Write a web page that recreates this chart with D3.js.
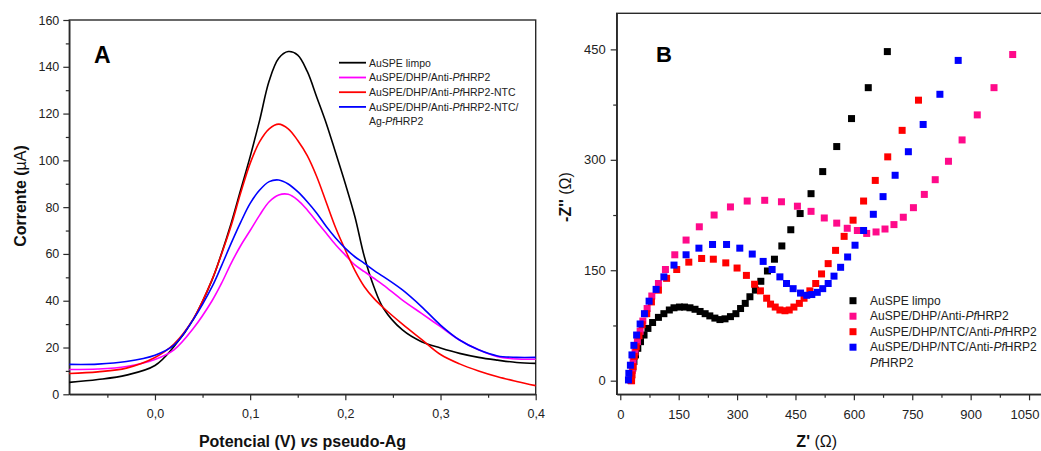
<!DOCTYPE html>
<html><head><meta charset="utf-8">
<script src="https://cdn.jsdelivr.net/npm/d3@7"></script>
<style>
html,body{margin:0;padding:0;background:#fff;}
svg{display:block;font-family:"Liberation Sans",Arial,sans-serif;}
</style></head>
<body>
<svg id="chart" width="1041" height="451"></svg>
<script>
// ---------- Panel A data (DPV) ----------
const potentialA = [-0.09,-0.06,-0.03,0.00,0.02,0.04,0.06,0.07,0.08,0.09,0.10,0.11,0.12,0.13,0.14,0.15,0.16,0.17,0.18,0.19,0.20,0.21,0.22,0.23,0.24,0.26,0.28,0.30,0.32,0.34,0.36,0.38,0.40];
const aLimpo   = [5.1,6.3,8.2,12.3,20.4,31.8,48.9,60.3,73,87.3,101.6,117.2,134,143.6,146.5,145,138,127,115.8,103,90,76,58.8,46,36.8,27.5,22.5,19.8,17.5,15.8,14.6,13.6,13.2];
const aAnti    = [10.6,10.8,11.9,14.9,19,28,40,47.5,56,63.5,70,76.6,82.3,85.2,85.5,83,78.8,73.8,68.8,63.8,59.5,55.3,52.4,49.6,46.7,40.3,34.6,28.9,23.2,19,16.1,15.1,15];
const aNTC     = [8.9,9.6,11.2,15.7,21.5,32,49,60,72,86,98.7,108,113.5,115.5,113.5,108.5,102,93,82,71,61.7,53,46,41,37,30,23.5,17,13,10,7.5,5.5,3.7];
const aNTCAg   = [12.8,12.9,14,16.7,21,31.8,46,55,64.5,73.5,81.6,87.3,90.9,91.6,89.9,86.6,82.3,77.4,71.7,66.7,62.4,58.8,56,53,50.3,44.6,37.5,29.6,23.2,19,16.4,15.8,15.8];
const seriesNamesA = ["AuSPE limpo","AuSPE/DHP/Anti-PfHRP2","AuSPE/DHP/Anti-PfHRP2-NTC","AuSPE/DHP/Anti-PfHRP2-NTC/Ag-PfHRP2"];
const xTicksA = [0,0.1,0.2,0.3,0.4];
const xTickLabelsA = ["0,0","0,1","0,2","0,3","0,4"];
const yTicksA = [0,20,40,60,80,100,120,140,160];

// ---------- Panel B data (EIS Nyquist) ----------
const bLimpoZre = [27,29,32,35,39,45,52,61,71,83,98,112,126,138,152,165,179,192,205,218,230,243,256,269,283,297,309,321,333,347,361,378,396,415,438,462,490,520,556,594,637,686];
const bLimpoZim = [1,8,17,26,35,44,53,62,71,79,86,91,96,99,100,100,99,97,94,91,88,85,83,84,87,91,98,105,114,123,135,149,165,183,205,227,254,284,318,356,398,447];
const bAntiZre = [28,29,31,33,38,44,51,58,69,81,98,116,140,169,203,241,283,326,371,414,455,490,524,556,583,609,633,657,680,703,727,753,781,809,843,878,917,960,1008];
const bAntiZim = [0,5,14,26,39,53,67,81,98,115,132,151,171,191,209,225,236,244,245,243,237,230,221,214,207,204,200,202,206,212,222,235,253,273,298,327,361,398,443];
const bNTCZre = [29,30,33,36,41,48,56,68,80,98,119,145,176,209,239,271,300,324,345,360,376,386,398,410,423,434,446,460,472,487,502,517,534,553,575,598,625,655,687,724,766];
const bNTCZim = [0,8,19,33,46,61,76,91,107,123,139,151,161,166,165,160,153,143,131,122,112,104,100,96,95,96,100,105,112,122,132,145,159,177,196,218,244,272,304,340,381];
const bAgZre = [21,22,26,30,35,42,51,62,74,92,112,138,169,202,237,273,307,339,367,390,410,427,444,463,479,492,506,520,534,549,566,584,603,625,650,675,706,740,778,821,868];
const bAgZim = [1,10,21,35,48,62,77,91,108,124,141,157,171,180,185,185,180,172,162,151,141,132,125,119,116,117,120,125,132,142,154,168,184,204,226,250,279,311,348,389,435];
const seriesNamesB = ["AuSPE limpo","AuSPE/DHP/Anti-PfHRP2","AuSPE/DHP/NTC/Anti-PfHRP2","AuSPE/DHP/NTC/Anti-PfHRP2"];
const xTicksB = [0,150,300,450,600,750,900,1050];
const yTicksB = [0,150,300,450];

const colorsA = ["#000000","#ff00ff","#ff0000","#0000ff"];
const colorsB = ["#000000","#ff0a8a","#ff0000","#0000ff"];

const svg = d3.select("#chart");
const frameColor = "#2a2a2a";

// ================= Panel A =================
const xA = d3.scaleLinear().domain([-0.09,0.4]).range([69.3,535.7]);
const yA = d3.scaleLinear().domain([0,160]).range([394.3,20]);
const gA = svg.append("g");

gA.append("rect").attr("x",xA(-0.09)).attr("y",yA(160)).attr("width",xA(0.4)-xA(-0.09)).attr("height",yA(0)-yA(160))
  .attr("fill","none").attr("stroke",frameColor).attr("stroke-width",1.4);

function styleAxis(g, fs){
  g.selectAll(".domain").attr("stroke",frameColor).attr("stroke-width",1.4);
  g.selectAll(".tick line").attr("stroke",frameColor).attr("stroke-width",1.2);
  g.selectAll("text").attr("fill","#222").style("font-size",fs+"px").style("font-family","'Liberation Sans',Arial,sans-serif");
}

const axAx = gA.append("g").attr("transform",`translate(0,${yA(0)})`)
  .call(d3.axisBottom(xA).tickValues(xTicksA).tickFormat((d,i)=>xTickLabelsA[i]).tickSize(6).tickSizeOuter(0).tickPadding(9));
styleAxis(axAx,12.5);
const axAxMinor = gA.append("g").attr("transform",`translate(0,${yA(0)})`)
  .call(d3.axisBottom(xA).tickValues([-0.05,0.05,0.15,0.25,0.35]).tickFormat("").tickSize(3.5).tickSizeOuter(0));
styleAxis(axAxMinor,12);
axAxMinor.select(".domain").remove();

const ayAx = gA.append("g").attr("transform",`translate(${xA(-0.09)},0)`)
  .call(d3.axisLeft(yA).tickValues(yTicksA).tickSize(6).tickSizeOuter(0).tickPadding(4));
styleAxis(ayAx,12.5);
const ayAxMinor = gA.append("g").attr("transform",`translate(${xA(-0.09)},0)`)
  .call(d3.axisLeft(yA).tickValues([10,30,50,70,90,110,130,150]).tickFormat("").tickSize(3.5).tickSizeOuter(0));
styleAxis(ayAxMinor,12);
ayAxMinor.select(".domain").remove();

const lineA = d3.line().x(d=>xA(d[0])).y(d=>yA(d[1])).curve(d3.curveCatmullRom.alpha(0.5));
const dataA = [aLimpo,aAnti,aNTC,aNTCAg];
dataA.forEach((arr,i)=>{
  gA.append("path").datum(potentialA.map((x,j)=>[x,arr[j]]))
    .attr("d",lineA).attr("fill","none").attr("stroke",colorsA[i]).attr("stroke-width",1.6);
});

gA.append("text").attr("x",94).attr("y",63).text("A")
  .style("font-size","23px").style("font-weight","bold").attr("fill","#000");

function pfText(sel, str){
  const parts = str.split("Pf");
  parts.forEach((p,k)=>{
    if(k>0) sel.append("tspan").style("font-style","italic").text("Pf");
    if(p.length) sel.append("tspan").text(p);
  });
}
const legA = gA.append("g");
const legAY = [62.7,77.5,92.2,106.9];
const legALabels = ["AuSPE limpo","AuSPE/DHP/Anti-PfHRP2","AuSPE/DHP/Anti-PfHRP2-NTC","AuSPE/DHP/Anti-PfHRP2-NTC/"];
legALabels.forEach((lab,i)=>{
  legA.append("line").attr("x1",339).attr("x2",366).attr("y1",legAY[i]).attr("y2",legAY[i])
    .attr("stroke",colorsA[i]).attr("stroke-width",1.8);
  const t = legA.append("text").attr("x",369).attr("y",legAY[i]+3.8).style("font-size","10.5px").attr("fill","#222");
  pfText(t,lab);
});
const tAg = legA.append("text").attr("x",369).attr("y",121.6+3.8).style("font-size","10.5px").attr("fill","#222");
pfText(tAg,"Ag-PfHRP2");

gA.append("text").attr("x",302.5).attr("y",447).attr("text-anchor","middle")
  .style("font-size","16px").style("font-weight","bold").attr("fill","#111")
  .call(t=>{
    t.append("tspan").text("Potencial (V) ");
    t.append("tspan").style("font-style","italic").text("vs");
    t.append("tspan").text(" pseudo-Ag");
  });
gA.append("text").attr("transform","translate(26,196) rotate(-90)").attr("text-anchor","middle")
  .style("font-size","16px").style("font-weight","bold").attr("fill","#111")
  .call(t=>{
    t.append("tspan").text("Corrente (");
    t.append("tspan").style("font-weight","normal").text("\u00B5A");
    t.append("tspan").text(")");
  });

// ================= Panel B =================
const xB = d3.scaleLinear().domain([-9.2,1100]).range([616.7,616.7+1109.2*0.3893]);
const yB = d3.scaleLinear().domain([-18.5,499]).range([394.3,13.3]);
const gB = svg.append("g");

gB.append("rect").attr("x",xB(-9.2)).attr("y",yB(499)).attr("width",xB(1100)-xB(-9.2)).attr("height",yB(-18.5)-yB(499))
  .attr("fill","none").attr("stroke",frameColor).attr("stroke-width",1.4);

const bxAx = gB.append("g").attr("transform",`translate(0,${yB(-18.5)})`)
  .call(d3.axisBottom(xB).tickValues(xTicksB).tickFormat(d3.format("d")).tickSize(6).tickSizeOuter(0).tickPadding(9));
styleAxis(bxAx,13);
// last label sits at the picture's right edge: keep it inside
bxAx.selectAll(".tick").filter(d=>d===1050).select("text").attr("text-anchor","end").attr("x",1039-xB(1050));
const bxAxMinor = gB.append("g").attr("transform",`translate(0,${yB(-18.5)})`)
  .call(d3.axisBottom(xB).tickValues([75,225,375,525,675,825,975]).tickFormat("").tickSize(3.5).tickSizeOuter(0));
styleAxis(bxAxMinor,12);
bxAxMinor.select(".domain").remove();

const byAx = gB.append("g").attr("transform",`translate(${xB(-9.2)},0)`)
  .call(d3.axisLeft(yB).tickValues(yTicksB).tickFormat(d3.format("d")).tickSize(6).tickSizeOuter(0).tickPadding(5));
styleAxis(byAx,13);
const byAxMinor = gB.append("g").attr("transform",`translate(${xB(-9.2)},0)`)
  .call(d3.axisLeft(yB).tickValues([75,225,375]).tickFormat("").tickSize(3.5).tickSizeOuter(0));
styleAxis(byAxMinor,12);
byAxMinor.select(".domain").remove();

const dataB = [[bLimpoZre,bLimpoZim],[bAntiZre,bAntiZim],[bNTCZre,bNTCZim],[bAgZre,bAgZim]];
const ms = 7;
dataB.forEach((pair,i)=>{
  gB.append("g").selectAll("rect").data(pair[0].map((x,j)=>[x,pair[1][j]])).join("rect")
    .attr("x",d=>xB(d[0])-ms/2).attr("y",d=>yB(d[1])-ms/2).attr("width",ms).attr("height",ms)
    .attr("fill",colorsB[i]);
});

gB.append("text").attr("x",656).attr("y",62).text("B")
  .style("font-size","22px").style("font-weight","bold").attr("fill","#000");

const legB = gB.append("g");
const legBY = [300.7,316.2,331.7,347.2];
seriesNamesB.forEach((lab,i)=>{
  legB.append("rect").attr("x",853-ms/2).attr("y",legBY[i]-ms/2).attr("width",ms).attr("height",ms).attr("fill",colorsB[i]);
  const t = legB.append("text").attr("x",870).attr("y",legBY[i]+4.2).style("font-size","12px").attr("fill","#222");
  pfText(t,lab);
});
const tB2 = legB.append("text").attr("x",870).attr("y",362.7+4.2).style("font-size","12px").attr("fill","#222");
pfText(tB2,"PfHRP2");

gB.append("text").attr("x",816.7).attr("y",447).attr("text-anchor","middle")
  .style("font-size","16px").attr("fill","#111")
  .call(t=>{
    t.append("tspan").style("font-weight","bold").text("Z' ");
    t.append("tspan").text("(\u03A9)");
  });
gB.append("text").attr("transform","translate(571,197) rotate(-90)").attr("text-anchor","middle")
  .style("font-size","16px").attr("fill","#111")
  .call(t=>{
    t.append("tspan").style("font-weight","bold").text("-Z'' ");
    t.append("tspan").text("(\u03A9)");
  });
</script>
</body></html>
